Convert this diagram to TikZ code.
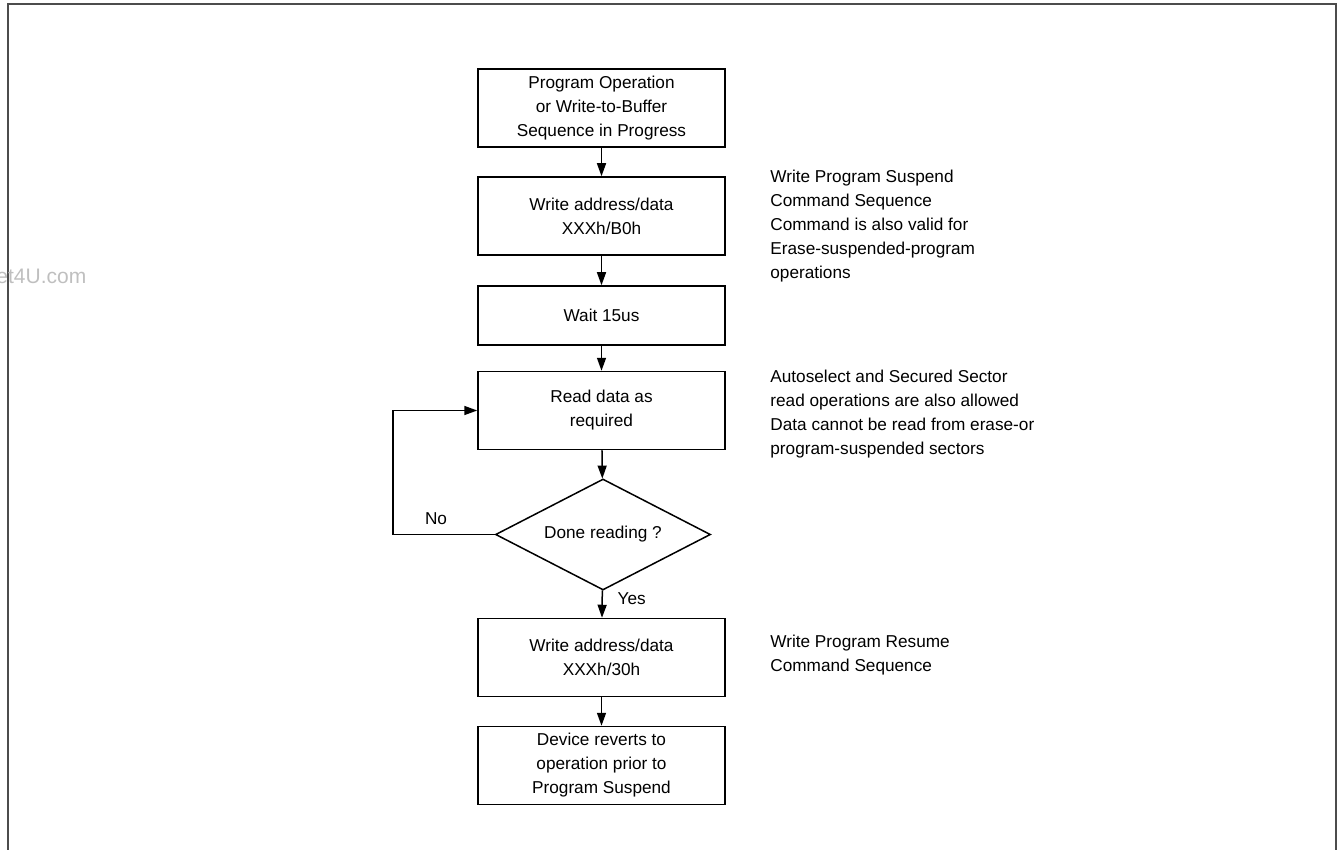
\documentclass[tikz,border=0pt]{standalone}
\usepackage{fontspec}
\setmainfont{Liberation Sans}
\usetikzlibrary{arrows.meta, shapes.geometric}
\tikzset{>={Triangle[length=6.5pt,width=4.5pt]}}
\tikzset{
    procbox/.style={draw, line width=0.75pt, minimum width=123.5pt, minimum height=39pt, align=center, inner sep=0pt},
    testnode/.style={draw, diamond, aspect=1.94, line width=0.75pt, minimum width=107.5pt, minimum height=55.5pt, inner sep=0pt},
    sidenote/.style={align=left, anchor=west, inner sep=0pt},
    flow/.style={->, line width=0.75pt}
}

\begin{document}
\begin{tikzpicture}[x=0.5pt, y=-0.5pt, font=\fontsize{8.6}{12}\selectfont]
    \useasboundingbox (0,0) rectangle (1338,850);
    \draw[line width=0.75pt, black!70] (8,850) -- (8,4) -- (1336,4) -- (1336,850);
    \node[anchor=west, inner sep=0pt, text=black!25, font=\fontsize{10.5}{12}\selectfont] (mark) at (-4,276) {et4U.com};
    \node[procbox] (start) at (601.5,108) {Program Operation\\or Write-to-Buffer\\Sequence in Progress};
    \node[procbox] (suspend) at (601.5,216) {Write address/data\\XXXh/B0h};
    \node[procbox, minimum height=29.5pt] (wait) at (601.5,315.5) {Wait 15us};
    \node[procbox] (read) at (601.5,410.5) {Read data as\\required};
    \node[testnode] (done) at (603,534.5) {Done reading ?};
    \node[procbox] (resume) at (601.5,657.5) {Write address/data\\XXXh/30h};
    \node[procbox] (revert) at (601.5,765.5) {Device reverts to\\operation prior to\\Program Suspend};
    \draw[flow] (start) -- (suspend);
    \draw[flow] (suspend) -- (wait);
    \draw[flow] (wait) -- (read);
    \draw[flow] (read) -- (done);
    \draw[flow] (done) -- (resume) node [pos=0.3, right=4pt] {Yes};
    \draw[flow] (resume) -- (revert);
    \coordinate (loop) at (393,534.5);
    \draw[flow] (done.west) -- (loop) |- (read.west);
    \node (no) at (436,519) {No};
    \node[sidenote] (note1) at (770,226) {Write Program Suspend\\Command Sequence\\Command is also valid for\\Erase-suspended-program\\operations};
    \node[sidenote] (note2) at (770,414) {Autoselect and Secured Sector\\read operations are also allowed\\Data cannot be read from erase-or\\program-suspended sectors};
    \node[sidenote] (note3) at (770,655) {Write Program Resume\\Command Sequence};
    \end{tikzpicture}
\end{document}
